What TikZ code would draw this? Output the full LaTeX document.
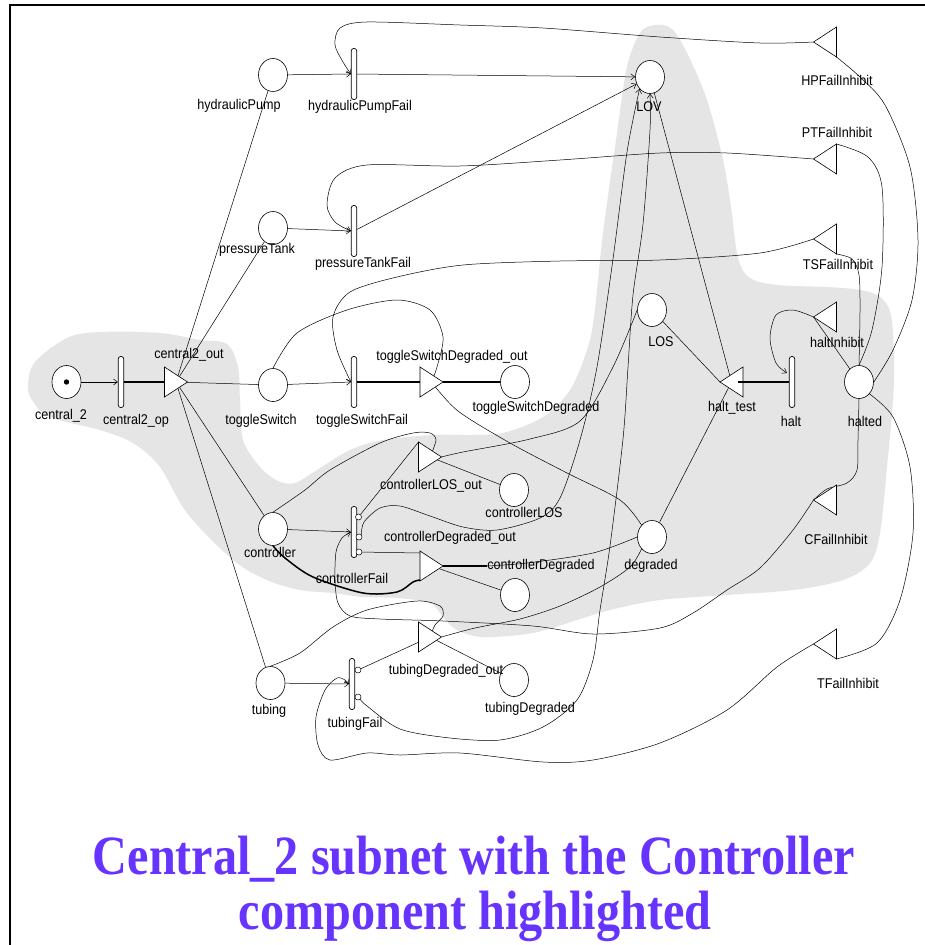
\documentclass[tikz,border=0pt]{standalone}
\usepackage{fontspec}
\usepackage{graphicx}
\setmainfont{Liberation Serif}
\newfontfamily\labelfont{Liberation Sans}
\usetikzlibrary{shapes.geometric,arrows.meta}
\pgfdeclarelayer{shade}
\pgfdeclarelayer{wires}
\pgfsetlayers{shade,wires,main}
\definecolor{hilite}{RGB}{229,229,229}
\definecolor{titleblue}{RGB}{102,51,255}
\newcommand{\lb}[1]{\scalebox{1}[1.12]{#1}}
\newcommand{\tscale}[1]{\scalebox{1}[1.15]{#1}}
% gates: a named box with a triangle drawn in it
\newcommand{\outgate}[2]{\node[gbox] (#1) at (#2) {};
  \draw[gate] (#1.north west) -- (#1.east) -- (#1.south west) -- cycle;}
\newcommand{\ingate}[2]{\node[gbox] (#1) at (#2) {};
  \draw[gate] (#1.north east) -- (#1.west) -- (#1.south east) -- cycle;}

\begin{document}
\begin{tikzpicture}[x=1pt,y=-1pt,
  place/.style={ellipse, draw, fill=white, line width=0.6pt, minimum width=29pt, minimum height=33pt, inner sep=0pt},
  trans/.style={rectangle, rounded corners=2.5pt, draw, fill=white, line width=0.7pt, minimum width=5.5pt, minimum height=51pt, inner sep=0pt},
  case/.style={circle, draw, fill=white, line width=0.5pt, minimum size=6pt, inner sep=0pt},
  gbox/.style={rectangle, minimum width=23pt, minimum height=30pt, inner sep=0pt, outer sep=0pt},
  gate/.style={draw, fill=white, line width=0.6pt, line join=miter},
  lab/.style={font=\labelfont\fontsize{12.6pt}{14pt}\selectfont, inner sep=0pt},
  ttl/.style={font=\fontsize{48.2pt}{50pt}\selectfont\bfseries, text=titleblue, inner sep=0pt, anchor=base},
  wire/.style={line width=0.5pt},
  arr/.style={wire, -{Straight Barb[length=4pt,width=6pt]}},
  bold wire/.style={line width=1.3pt},
  hot wire/.style={line width=1.5pt}
]
% page and highlighted component region
\begin{pgfonlayer}{shade}
  \fill[white] (0,0) rectangle (925,945);
  \fill[hilite] plot[smooth cycle, tension=0.55] coordinates {
    (28,385) (35,362) (67,338) (100,332) (160,333) (200,340) (227,344) (238,367)
    (240,400) (243,440) (260,467) (278,481) (295,483) (317,470) (350,450) (383,440)
    (433,435) (470,435) (503,433) (543,417) (570,390) (587,350) (594,317) (603,233)
    (617,133) (627,67) (640,33) (655,25) (672,29) (688,55) (707,100) (723,160)
    (731,207) (738,258) (750,278) (777,285) (827,287) (860,290) (880,297) (891,315)
    (894,360) (893,400) (887,467) (880,533) (870,563) (843,580) (793,590) (727,595)
    (660,600) (610,610) (577,620) (533,633) (483,637) (457,630) (443,617) (430,603)
    (397,598) (363,597) (333,593) (300,590) (267,580) (233,560) (187,513) (160,467)
    (133,443) (100,430) (50,417) (32,400)};
\end{pgfonlayer}
\useasboundingbox (0,0) rectangle (925,945);

% frame
\draw[line width=2pt] (10,945) -- (10,5) -- (925,5);

% places
\node[place] (c2) at (66.5,382) {};
\node[place] (hp) at (273,75) {};
\node[place] (pt) at (273,228) {};
\node[place] (ts) at (273,385) {};
\node[place] (ctl) at (273,529) {};
\node[place] (tub) at (270.5,683) {};
\node[place] (tsd) at (515,382) {};
\node[place] (clos) at (514,490) {};
\node[place] (cdeg) at (515,595) {};
\node[place] (tdeg) at (514,680) {};
\node[place] (lov) at (650,77) {};
\node[place] (los) at (652,310) {};
\node[place] (deg) at (652,537) {};
\node[place] (halted) at (859,382) {};
\fill (c2) circle (2.7pt);

% timed activities
\node[trans] (c2op) at (121,382) {};
\node[trans] (hpf) at (354,74) {};
\node[trans] (ptf) at (354,231) {};
\node[trans] (tsf) at (354,382) {};
\node[trans] (cf) at (354,532) {};
\node[trans] (tf) at (352,684) {};
\node[trans] (halt) at (792,382) {};

% activity cases
\node[case] (cf1) at (358.5,517) {};
\node[case] (cf2) at (359,537) {};
\node[case] (cf3) at (359,552) {};
\node[case] (tf1) at (358,670) {};
\node[case] (tf2) at (358,697) {};

% output gates
\outgate{c2out}{176,382}
\outgate{tsdo}{431.5,382}
\outgate{closo}{430,457}
\outgate{cdo}{431.5,566}
\outgate{tdo}{430,637}

% input gates
\ingate{ht}{731.5,382}
\ingate{hpi}{825,42}
\ingate{pti}{825,159}
\ingate{tsi}{825,239}
\ingate{hi}{825,317}
\ingate{cfi}{825,500}
\ingate{tfi}{825,644}

% attachment points
\coordinate (cdoUL) at ([shift={(0,2)}]cdo.north west);
\coordinate (cdoLL) at ([shift={(0,-1)}]cdo.south west);
\coordinate (cdmid) at (487,566);
\coordinate (haltIn) at ([shift={(-2,-9)}]halt.west);
\coordinate (htIn) at ([shift={(6,0)}]ht.center);

% labels
\node[lab] (lc2) at (61,416) {\lb{central\_2}};
\node[lab] (lc2op) at (136,421) {\lb{central2\_op}};
\node[lab] (lc2out) at (189,355) {\lb{central2\_out}};
\node[lab] (lhp) at (239,106) {\lb{hydraulicPump}};
\node[lab] (lhpf) at (360,107) {\lb{hydraulicPumpFail}};
\node[lab] (lpt) at (257,250) {\lb{pressureTank}};
\node[lab] (lptf) at (363,264) {\lb{pressureTankFail}};
\node[lab] (lts) at (261,421) {\lb{toggleSwitch}};
\node[lab] (ltsf) at (362,421) {\lb{toggleSwitchFail}};
\node[lab] (ltsdo) at (452,357) {\lb{toggleSwitchDegraded\_out}};
\node[lab] (ltsd) at (536,408) {\lb{toggleSwitchDegraded}};
\node[lab] (lctl) at (270,552) {\lb{controller}};
\node[lab] (lcf) at (352,578) {\lb{controllerFail}};
\node[lab] (lclo) at (431,486) {\lb{controllerLOS\_out}};
\node[lab] (lclos) at (524,512) {\lb{controllerLOS}};
\node[lab] (lcdo) at (450,538) {\lb{controllerDegraded\_out}};
\node[lab] (lcdeg) at (541,566) {\lb{controllerDegraded}};
\node[lab] (ltub) at (269,711) {\lb{tubing}};
\node[lab] (ltf) at (355,724) {\lb{tubingFail}};
\node[lab] (ltdo) at (446,671) {\lb{tubingDegraded\_out}};
\node[lab] (ltdeg) at (530,709) {\lb{tubingDegraded}};
\node[lab] (llov) at (649,107) {\lb{LOV}};
\node[lab] (llos) at (661,342) {\lb{LOS}};
\node[lab] (ldeg) at (651,566) {\lb{degraded}};
\node[lab] (lht) at (732,408) {\lb{halt\_test}};
\node[lab] (lhalt) at (791,421) {\lb{halt}};
\node[lab] (lhalted) at (865,421) {\lb{halted}};
\node[lab] (lhpi) at (837,80) {\lb{HPFailInhibit}};
\node[lab] (lpti) at (837,132) {\lb{PTFailInhibit}};
\node[lab] (ltsi) at (838,264) {\lb{TSFailInhibit}};
\node[lab] (lhi) at (837,342) {\lb{haltInhibit}};
\node[lab] (lcfi) at (836,539) {\lb{CFailInhibit}};
\node[lab] (ltfi) at (848,683) {\lb{TFailInhibit}};

% title
\node[ttl] (title1) at (474,874) {\tscale{Central\_2 subnet with the Controller}};
\node[ttl] (title2) at (475,929) {\tscale{component highlighted}};

% arcs
\begin{pgfonlayer}{wires}
  \draw[arr] (c2) -- (c2op.west);
  \draw[bold wire] (c2op) -- (c2out);
  \draw[wire] (c2out.center) -- (hp);
  \draw[wire] (c2out.center) -- (pt);
  \draw[wire] (c2out.center) -- (ts);
  \draw[wire] (c2out.center) -- (ctl);
  \draw[wire] (c2out.center) -- (tub);

  \draw[arr] (hp) -- (hpf.west);
  \draw[arr] (hpf) -- (lov);
  \draw[arr] (pt) -- (ptf.west);
  \draw[arr] (ptf) -- (lov);
  \draw[arr] plot[smooth] coordinates {(hpi.west) (760,43) (660,37) (543,28) (460,25) (367,22) (340,28) (335,45) (343,62) (hpf.west)};
  \draw[arr] plot[smooth] coordinates {(pti.west) (727,153) (660,153) (560,160) (460,166) (367,165) (335,178) (327,205) (335,222) (ptf.west)};
  \draw[arr] plot[smooth] coordinates {(tsi.west) (760,253) (660,260) (560,261) (463,265) (397,277) (350,292) (333,317) (337,350) (tsf.west)};

  \draw[arr] (ts) -- (tsf.west);
  \draw[bold wire] (tsf) -- (tsdo);
  \draw[bold wire] (tsdo) -- (tsd);
  \draw[wire] plot[smooth] coordinates {(ts.north) (297,333) (347,310) (397,300) (430,310) (443,337) (437,367) (tsdo.center)};
  \draw[wire] plot[smooth] coordinates {(tsdo.center) (458,411) (510,443) (567,473) (620,500) (deg.north west)};

  \draw[arr] (ctl) -- (cf.west);
  \draw[wire] (cf1) -- (closo.north west);
  \draw[arr] plot[smooth] coordinates {(cf2.north east) (364,522) (380,508) (400,506) (430,516) (463,527) (497,530) (540,518) (560,498) (580,440) (597,367) (613,259) (627,152) (lov.south west)};
  \draw[wire] (cf3) -- (cdoUL);
  \draw[wire] plot[smooth] coordinates {(ctl.north) (305,490) (330,470) (380,443) (413,433) (430,433) (436,440) (closo.center)};
  \draw[hot wire] plot[smooth] coordinates {(ctl.south) (285,558) (313,577) (363,593) (397,592) (413,582) (cdoLL)};
  \draw[wire] (closo.center) -- (clos);
  \draw[wire] plot[smooth] coordinates {(closo.east) (463,452) (530,439) (580,421) (613,367) (los.west)};
  \draw[wire] (cdo.center) -- (cdeg);
  \draw[bold wire] (cdo.east) -- (cdmid);
  \draw[wire] plot[smooth] coordinates {(cdmid) (527,563) (593,553) (deg.west)};

  \draw[arr] (tub) -- (tf.west);
  \draw[wire] (tf1) -- (tdo.center);
  \draw[arr] plot[smooth] coordinates {(tf2.south east) (367,706) (400,729) (450,738) (500,740) (543,727) (577,700) (593,660) (600,610) (610,546) (623,439) (628,367) (633,295) (643,224) (650,130) (lov.south)};
  \draw[wire] plot[smooth] coordinates {(tub.north) (300,653) (333,627) (367,610) (417,601) (440,606) (443,616) (435,625) (tdo.center)};
  \draw[wire] (tdo.center) -- (tdeg);
  \draw[wire] plot[smooth] coordinates {(tdo.east) (475,628) (520,619) (560,606) (600,587) (630,567) (deg.south west)};

  \draw[arr] plot[smooth] coordinates {(cfi.west) (793,530) (760,568) (727,590) (693,613) (660,628) (593,634) (533,626) (443,621) (380,619) (350,616) (338,603) (335,580) (336,552) (342,538) (cf.west)};
  \draw[arr] plot[smooth] coordinates {(tfi.west) (777,667) (727,710) (660,743) (593,760) (543,762) (460,753) (400,755) (367,753) (330,760) (318,745) (316,717) (325,690) (337,678) (345,680) (tf.west)};

  \draw[wire] (lov) -- (ht.center);
  \draw[wire] (los) -- (ht.west);
  \draw[wire] (deg) -- (ht.center);
  \draw[wire] (halted) -- (hi.west);
  \draw[arr] plot[smooth] coordinates {(hi.west) (793,310) (776,315) (770,338) (776,363) (haltIn)};
  \draw[wire] plot[smooth] coordinates {(halted.north) (872,330) (882,267) (882,187) (868,157) (pti.north east)};
  \draw[wire] plot[smooth] coordinates {(halted.north) (860,310) (859,275) (852,259) (tsi.south east)};
  \draw[wire] plot[smooth] coordinates {(halted.east) (893,350) (912,300) (918,240) (910,167) (885,105) (860,77) (hpi.south east)};
  \draw[wire] plot[smooth] coordinates {(halted.south) (858,440) (857,470) (847,483) (827,489) (cfi.west)};
  \draw[wire] plot[smooth] coordinates {(halted.south east) (893,417) (910,467) (913,533) (900,600) (877,643) (tfi.south east)};
\end{pgfonlayer}
\draw[bold wire] (halt.west) -- (htIn);
\end{tikzpicture}
\end{document}
